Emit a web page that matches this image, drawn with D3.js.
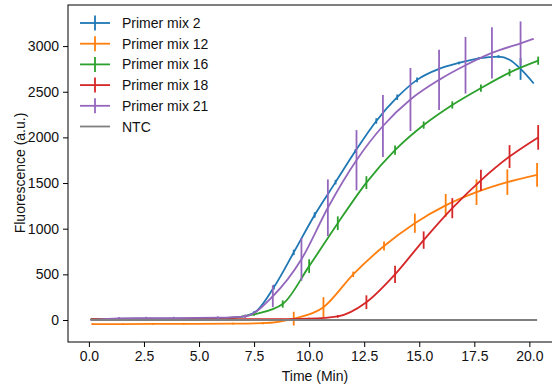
<!DOCTYPE html>
<html>
<head>
<meta charset="utf-8">
<script src="https://cdn.jsdelivr.net/npm/d3@7"></script>
<style>
  body { margin: 0; background: #fff; }
  svg { font-family: "Liberation Sans", Arial, sans-serif; }
</style>
</head>
<body>
<div id="chart"></div>
<script>
// Sample times (min), mean fluorescence and error (a.u.)
const mix2Time = [0.1, 1.05, 2.0, 2.9, 3.85, 4.8, 5.7, 6.6, 7.5, 8.4, 9.3, 10.25, 11.2, 12.1, 13.05, 14.0, 14.9, 15.9, 16.8, 17.7, 18.6, 19.1, 19.6, 20.2];
const mix2Fluor = [5, 8, 10, 10, 12, 12, 15, 25, 80, 360, 740, 1150, 1510, 1850, 2180, 2440, 2630, 2750, 2815, 2865, 2885, 2850, 2750, 2590];
const mix2Err = [8, 8, 8, 8, 8, 8, 8, 8, 15, 25, 30, 30, 25, 20, 30, 30, 25, 15, 15, 15, 15, 0, 120, 0];

const mix12Time = [0.15, 1.55, 2.9, 4.3, 6.55, 7.9, 9.3, 10.65, 12.0, 13.4, 14.8, 16.2, 17.6, 19.0, 20.35];
const mix12Fluor = [-45, -45, -43, -42, -40, -35, 15, 140, 500, 810, 1060, 1255, 1400, 1510, 1590];
const mix12Err = [10, 10, 10, 10, 10, 12, 75, 110, 30, 50, 105, 125, 140, 140, 130];

const mix16Time = [0.1, 1.0, 2.3, 3.6, 4.9, 6.2, 7.5, 8.8, 10.0, 11.3, 12.6, 13.9, 15.2, 16.5, 17.8, 19.1, 20.4];
const mix16Fluor = [10, 12, 14, 15, 15, 20, 62, 175, 590, 1060, 1505, 1860, 2135, 2355, 2540, 2710, 2840];
const mix16Err = [5, 5, 5, 5, 5, 5, 15, 40, 75, 75, 70, 50, 40, 40, 40, 40, 45];

const mix18Time = [0.1, 1.4, 2.7, 4.0, 5.3, 6.6, 7.4, 8.7, 10.0, 11.3, 12.6, 13.9, 15.2, 16.5, 17.8, 19.1, 20.4];
const mix18Fluor = [8, 8, 8, 8, 8, 8, 8, 10, 15, 40, 195, 500, 875, 1225, 1530, 1790, 2000];
const mix18Err = [3, 3, 3, 3, 3, 3, 3, 5, 10, 15, 75, 95, 95, 110, 115, 125, 135];

const mix21Time = [0.1, 1.36, 2.6, 3.85, 5.85, 7.1, 8.35, 9.65, 10.85, 12.15, 13.35, 14.6, 15.9, 17.1, 18.3, 19.6, 20.2];
const mix21Fluor = [0, 18, 20, 20, 25, 40, 260, 665, 1230, 1750, 2125, 2415, 2630, 2790, 2925, 3030, 3080];
const mix21Err = [8, 15, 15, 15, 15, 20, 120, 235, 310, 330, 340, 345, 330, 310, 280, 240, 0];

const ntcTime = [0.1, 20.35];
const ntcFluor = [0, 0];

const seriesNames = ['Primer mix 2', 'Primer mix 12', 'Primer mix 16', 'Primer mix 18', 'Primer mix 21', 'NTC'];
const seriesColors = ['#1f77b4', '#ff7f0e', '#2ca02c', '#d62728', '#9467bd', '#7f7f7f'];

const xTicks = [0, 2.5, 5, 7.5, 10, 12.5, 15, 17.5, 20];
const yTicks = [0, 500, 1000, 1500, 2000, 2500, 3000];

function zipSeries(ts, vs, es) {
    return ts.map((t, i) => ({ t: t, v: vs[i], e: es ? es[i] : 0 }));
}

const series = [
    zipSeries(mix2Time, mix2Fluor, mix2Err),
    zipSeries(mix12Time, mix12Fluor, mix12Err),
    zipSeries(mix16Time, mix16Fluor, mix16Err),
    zipSeries(mix18Time, mix18Fluor, mix18Err),
    zipSeries(mix21Time, mix21Fluor, mix21Err),
    zipSeries(ntcTime, ntcFluor, null)
].map((pts, i) => ({ name: seriesNames[i], color: seriesColors[i], pts: pts, err: i < 5 }));

// Set up dimensions
const W = 552, H = 387;
const plot = { left: 68, top: 5, right: 558, bottom: 342 };

const svg = d3.select('#chart')
    .append('svg')
    .attr('width', W)
    .attr('height', H);

// Create scales
const xScale = d3.scaleLinear()
    .domain([-0.95, 21.3])
    .range([plot.left, plot.right]);

const yScale = d3.scaleLinear()
    .domain([-241, 3450])
    .range([plot.bottom, plot.top]);

// Clip to axes area
svg.append('clipPath')
    .attr('id', 'clip')
    .append('rect')
    .attr('x', plot.left)
    .attr('y', plot.top)
    .attr('width', plot.right - plot.left)
    .attr('height', plot.bottom - plot.top);

const marks = svg.append('g').attr('clip-path', 'url(#clip)');

const line = d3.line()
    .x(d => xScale(d.t))
    .y(d => yScale(d.v))
    .curve(d3.curveMonotoneX);

series.forEach(s => {
    const g = marks.append('g');
    g.append('path')
        .datum(s.pts)
        .attr('fill', 'none')
        .attr('stroke', s.color)
        .attr('stroke-width', 1.8)
        .attr('d', line);

    if (s.err) {
        g.selectAll('line.err')
            .data(s.pts.filter(d => d.e > 0))
            .enter()
            .append('line')
            .attr('class', 'err')
            .attr('x1', d => xScale(d.t))
            .attr('x2', d => xScale(d.t))
            .attr('y1', d => yScale(d.v - d.e))
            .attr('y2', d => yScale(d.v + d.e))
            .attr('stroke', s.color)
            .attr('stroke-width', 1.8);
    }
});

// Add X axis
const xAxis = svg.append('g')
    .attr('transform', `translate(0,${plot.bottom})`)
    .call(d3.axisBottom(xScale).tickValues(xTicks).tickFormat(d3.format('.1f')).tickSizeOuter(0).tickSize(5).tickPadding(4));

// Add Y axis
const yAxis = svg.append('g')
    .attr('transform', `translate(${plot.left},0)`)
    .call(d3.axisLeft(yScale).tickValues(yTicks).tickFormat(d3.format('d')).tickSizeOuter(0).tickSize(5).tickPadding(4));

[xAxis, yAxis].forEach(ax => {
    ax.select('.domain').remove();
    ax.selectAll('line').attr('stroke', '#000').attr('stroke-width', 1);
    ax.selectAll('text')
        .attr('fill', '#111')
        .attr('font-size', '14px')
        .attr('font-family', '"Liberation Sans", Arial, sans-serif');
});

// Spines
svg.append('rect')
    .attr('x', plot.left)
    .attr('y', plot.top)
    .attr('width', plot.right - plot.left)
    .attr('height', plot.bottom - plot.top)
    .attr('fill', 'none')
    .attr('stroke', '#000')
    .attr('stroke-width', 1);

// Axis labels
svg.append('text')
    .attr('x', 315)
    .attr('y', 381)
    .attr('text-anchor', 'middle')
    .attr('font-size', '14px')
    .attr('fill', '#111')
    .text('Time (Min)');

svg.append('text')
    .attr('transform', 'rotate(-90)')
    .attr('x', -173)
    .attr('y', 25)
    .attr('text-anchor', 'middle')
    .attr('font-size', '14px')
    .attr('fill', '#111')
    .text('Fluorescence (a.u.)');

// Add legend
const legend = svg.append('g')
    .attr('transform', 'translate(80, 23)');

series.forEach((s, i) => {
    const row = legend.append('g')
        .attr('transform', `translate(0, ${i * 20.7})`);

    row.append('line')
        .attr('x1', 0)
        .attr('x2', 30)
        .attr('y1', 0)
        .attr('y2', 0)
        .attr('stroke', s.color)
        .attr('stroke-width', 1.8);

    if (s.err) {
        row.append('line')
            .attr('x1', 15)
            .attr('x2', 15)
            .attr('y1', -7.5)
            .attr('y2', 7.5)
            .attr('stroke', s.color)
            .attr('stroke-width', 1.8);
    }

    row.append('text')
        .attr('x', 42)
        .attr('y', 5)
        .attr('font-size', '14px')
        .attr('fill', '#111')
        .text(s.name);
});
</script>
</body>
</html>
